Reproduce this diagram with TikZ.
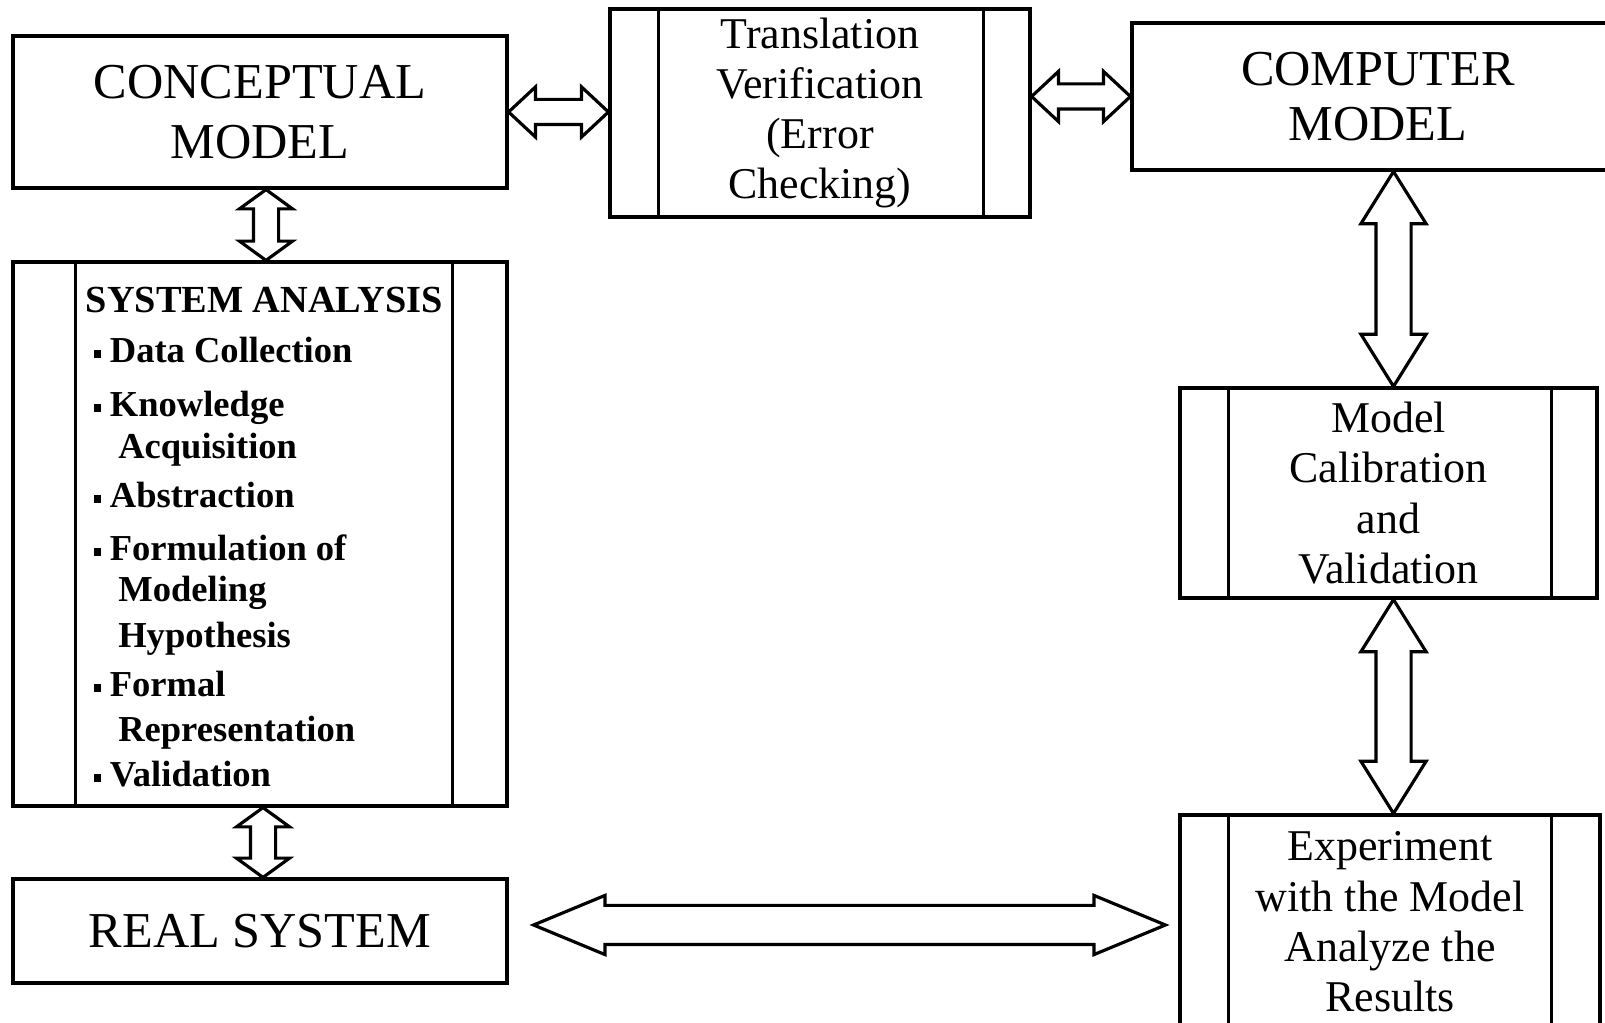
\documentclass[tikz,border=0pt]{standalone}
\usepackage{fontspec}
\setmainfont{Liberation Serif}
\usetikzlibrary{positioning,calc,shapes.arrows}

\tikzset{
  box/.style={draw, line width=0.9pt, inner sep=0pt, align=center},
  bigtext/.style={font=\fontsize{14.3}{17}\selectfont},
  midtext/.style={font=\fontsize{12.5}{14.3}\selectfont},
  satext/.style={font=\bfseries\fontsize{10.4}{11.7}\selectfont, inner sep=0pt},
  biarrow/.style={double arrow, draw, fill=white, line width=0.9pt, inner xsep=0pt},
  thinarrow/.style={biarrow, inner ysep=0.11cm, double arrow head extend=0.125cm, double arrow tip angle=86},
  stubarrow/.style={biarrow, inner ysep=0.11cm, double arrow head extend=0.14cm, double arrow tip angle=108},
  tallarrow/.style={biarrow, inner ysep=0.16cm, double arrow head extend=0.15cm, double arrow tip angle=64},
  longarrow/.style={biarrow, inner ysep=0.18cm, double arrow head extend=0.1cm, double arrow tip angle=45},
}

\newcommand{\sqb}{\rule[1.5pt]{2.2pt}{2.2pt}\hspace{2.4pt}}

% double arrow node stretched between two points
\newcommand{\linkarrow}[4]{%
  \path let \p1=(#3), \p2=(#4), \n1={veclen(\x2-\x1,\y2-\y1)}, \n2={atan2(\y2-\y1,\x2-\x1)} in
    node[#2, minimum height=\n1, rotate=\n2] (#1) at ($(\p1)!0.5!(\p2)$) {};%
}

\begin{document}
\begin{tikzpicture}

  \useasboundingbox (0,0) rectangle (16.05,-10.23);
  \clip (0,0) rectangle (16.05,-10.23);

  % boxes
  \node[box, bigtext, minimum width=4.94cm, minimum height=1.52cm] (concept) at (2.60,-1.12) {CONCEPTUAL\\MODEL};
  \node[box, midtext, minimum width=4.20cm, minimum height=2.08cm] (trans) at (8.20,-1.13) {Translation\\Verification\\(Error\\Checking)};
  \node[box, font=\fontsize{14.3}{15.6}\selectfont, minimum width=4.92cm, minimum height=1.47cm] (comp) at (13.78,-0.965) {COMPUTER\\MODEL};
  \node[box, midtext, minimum width=4.17cm, minimum height=2.10cm] (calib) at (13.885,-4.93) {Model\\Calibration\\and\\Validation};
  \node[box, midtext, minimum width=4.20cm, minimum height=2.14cm] (exper) at (13.90,-9.22) {Experiment\\with the Model\\Analyze the\\Results};
  \node[box, minimum width=4.94cm, minimum height=5.44cm] (sysan) at (2.60,-5.34) {};
  \node[box, bigtext, minimum width=4.94cm, minimum height=1.04cm] (real) at (2.60,-9.31) {REAL SYSTEM};

  % side bars
  \foreach \n/\l/\r in {trans/0.5/0.48, calib/0.5/0.47, exper/0.5/0.5, sysan/0.64/0.56} {
    \draw[line width=0.9pt] ([xshift=\l cm]\n.north west) -- ([xshift=\l cm]\n.south west);
    \draw[line width=0.9pt] ([xshift=-\r cm]\n.north east) -- ([xshift=-\r cm]\n.south east);
  }

  % system analysis text
  \node[satext, font=\bfseries\fontsize{10.9}{12}\selectfont, anchor=base] (satitle) at (2.645,-3.13) {SYSTEM ANALYSIS};
  \foreach \y/\t in {363/{\sqb Data Collection}, 417/{\sqb Knowledge}, 459/{\hspace*{7pt}Acquisition},
                     508/{\sqb Abstraction}, 561/{\sqb Formulation of}, 602/{\hspace*{7pt}Modeling},
                     648/{\hspace*{7pt}Hypothesis}, 697/{\sqb Formal}, 742/{\hspace*{7pt}Representation},
                     787/{\sqb Validation}}
    \node[satext, anchor=base west] (sa\y) at (0.93,{-\y/100}) {\t};

  % connectors
  \linkarrow{ct}{thinarrow}{concept.east}{concept.east -| trans.west}
  \linkarrow{tc}{thinarrow}{trans.east |- comp.west}{comp.west}
  \linkarrow{cs}{stubarrow}{[xshift=0.06cm]concept.south}{[xshift=0.06cm]sysan.north}
  \linkarrow{sr}{stubarrow}{[xshift=0.03cm]sysan.south}{[xshift=0.03cm]real.north}
  \linkarrow{cc}{tallarrow}{[xshift=0.05cm]calib.north |- comp.south}{[xshift=0.05cm]calib.north}
  \linkarrow{ce}{tallarrow}{[xshift=0.05cm]calib.south}{[xshift=0.05cm]calib.south |- exper.north}
  \linkarrow{re}{longarrow}{$(real.east)+(0.25,0.06)$}{$(exper.west |- real.east)+(-0.13,0.06)$}

\end{tikzpicture}
\end{document}
